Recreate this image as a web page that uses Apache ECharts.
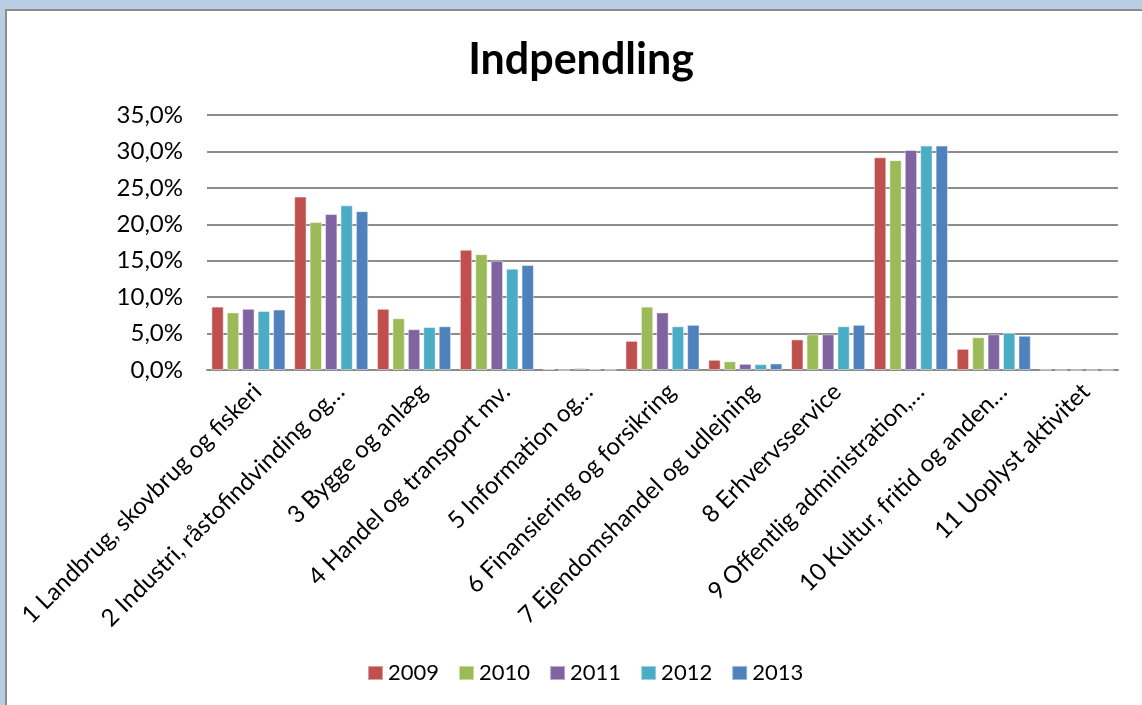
<!DOCTYPE html>
<html>
<head>
<meta charset="utf-8">
<script src="https://cdn.jsdelivr.net/npm/echarts@6/dist/echarts.min.js"></script>
<style>
html,body{margin:0;padding:0;width:1142px;height:705px;overflow:hidden;background:#b9cde5;}
#frame{position:absolute;left:5px;top:9px;width:1137px;height:696px;background:#fff;border-left:2px solid #8c8c8c;border-top:2px solid #8c8c8c;box-sizing:border-box;}
#chart{position:absolute;left:0;top:0;width:1142px;height:705px;}
</style>
</head>
<body>
<div id="frame"></div>
<div id="chart"></div>
<script>
const categories = [
  "1 Landbrug, skovbrug og fiskeri",
  "2 Industri, råstofindvinding og…",
  "3 Bygge og anlæg",
  "4 Handel og transport mv.",
  "5 Information og…",
  "6 Finansiering og forsikring",
  "7 Ejendomshandel og udlejning",
  "8 Erhvervsservice",
  "9 Offentlig administration,…",
  "10 Kultur, fritid og anden…",
  "11 Uoplyst aktivitet"
];
const years = ["2009", "2010", "2011", "2012", "2013"];
const v2009 = [8.7, 23.8, 8.4, 16.5, 0.12, 4.0, 1.4, 4.2, 29.2, 2.9, 0.03];
const v2010 = [7.9, 20.3, 7.1, 15.9, 0.0, 8.7, 1.2, 4.9, 28.8, 4.5, 0.0];
const v2011 = [8.4, 21.4, 5.6, 15.0, 0.25, 7.9, 0.85, 4.9, 30.2, 4.9, 0.0];
const v2012 = [8.1, 22.6, 5.9, 13.9, 0.1, 6.0, 0.8, 6.0, 30.8, 5.1, 0.0];
const v2013 = [8.3, 21.8, 6.0, 14.4, 0.03, 6.2, 0.9, 6.2, 30.8, 4.7, 0.0];
const yTicks = [0, 5, 10, 15, 20, 25, 30, 35];

const seriesValues = [v2009, v2010, v2011, v2012, v2013];
const colors = ["#c0504d", "#9bbb59", "#8064a2", "#4bacc6", "#4f81bd"];
const FONT = "Lato, 'Open Sans', sans-serif";

const chart = echarts.init(document.getElementById('chart'), null, {renderer: 'canvas'});
chart.setOption({
  backgroundColor: 'transparent',
  animation: false,
  color: colors,
  title: {
    text: 'Indpendling',
    left: 576,
    textAlign: 'center',
    top: 34,
    textStyle: {fontFamily: FONT, fontSize: 43, fontWeight: 'bold', color: '#000'}
  },
  legend: {
    data: years,
    left: 367,
    top: 662,
    padding: 0,
    itemWidth: 15,
    itemHeight: 14,
    itemGap: 19,
    icon: 'rect',
    textStyle: {fontFamily: FONT, fontSize: 22, color: '#000'}
  },
  grid: {left: 207, right: 24, top: 115, bottom: 335, containLabel: false},
  xAxis: {
    type: 'category',
    data: categories,
    axisLine: {show: true, lineStyle: {color: '#8c8c8c', width: 2}},
    axisTick: {show: false},
    axisLabel: {
      interval: 0,
      rotate: 45,
      margin: 27,
      padding: [0, -13, 0, 0],
      fontFamily: FONT,
      fontSize: 24,
      color: '#000'
    }
  },
  yAxis: {
    type: 'value',
    min: 0,
    max: 35,
    interval: 5,
    axisLine: {show: false},
    axisTick: {show: false},
    splitLine: {show: true, lineStyle: {color: '#8c8c8c', width: 2}},
    axisLabel: {
      margin: 24,
      fontFamily: FONT,
      fontSize: 24,
      color: '#000',
      formatter: function (v) { return v.toFixed(1).replace('.', ',') + '%'; }
    }
  },
  series: years.map(function (y, i) {
    return {
      name: y,
      type: 'bar',
      data: seriesValues[i],
      barGap: '25%',
      barCategoryGap: '10.6%',
      itemStyle: {color: colors[i], borderColor: 'rgba(255,255,255,0.45)', borderWidth: 1}
    };
  })
});
</script>
</body>
</html>
